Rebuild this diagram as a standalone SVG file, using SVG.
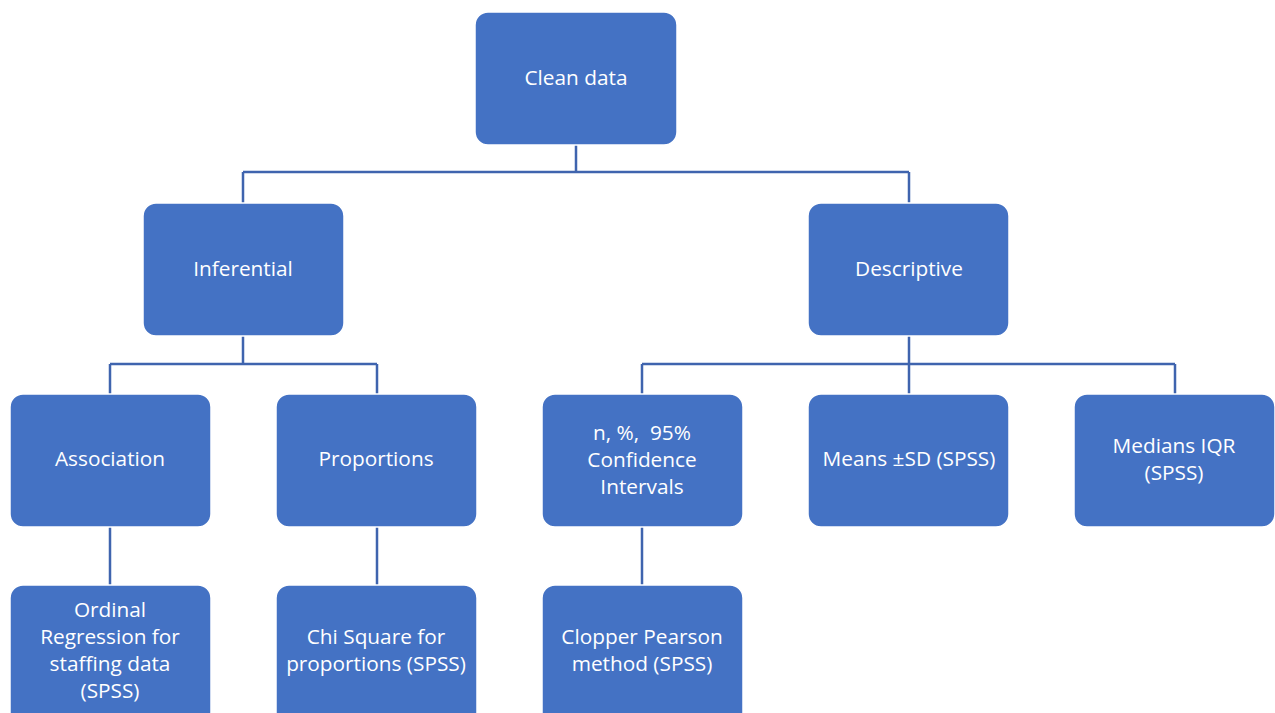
<svg xmlns="http://www.w3.org/2000/svg" width="1275" height="713" viewBox="0 0 1275 713">
<style>
.box{fill:#4472C4;stroke:#ffffff;stroke-width:1.5}
.t{font-family:"Open Sans","Noto Sans",sans-serif;font-size:20.8px;fill:#ffffff;text-anchor:middle;white-space:pre}
.c{stroke:#3F64AE;stroke-width:2.5;fill:none}
</style>
<rect width="1275" height="713" fill="#ffffff"/>
<g id="connectors">
<path class="c" d="M576,145V172M243,172H909M243,172V203M909,172V203"/>
<path class="c" d="M243,335V364M110,364H377M110,364V394M377,364V394"/>
<path class="c" d="M909,335V364M642,364H1175M642,364V394M909,335V394M1175,364V394"/>
<path class="c" d="M110,526V585M377,526V585M642,526V585"/>
</g>
<g id="clean-data"><rect class="box" x="475" y="12" width="202" height="133" rx="13"/><text class="t" x="576" y="85">Clean data</text></g>
<g id="inferential"><rect class="box" x="143" y="203" width="201" height="133" rx="13"/><text class="t" x="243" y="276">Inferential</text></g>
<g id="descriptive"><rect class="box" x="808" y="203" width="201" height="133" rx="13"/><text class="t" x="909" y="276">Descriptive</text></g>
<g id="association"><rect class="box" x="10" y="394" width="201" height="133" rx="13"/><text class="t" x="110" y="466">Association</text></g>
<g id="proportions"><rect class="box" x="276" y="394" width="201" height="133" rx="13"/><text class="t" x="376" y="466">Proportions</text></g>
<g id="n-percent"><rect class="box" x="542" y="394" width="201" height="133" rx="13"/><text class="t" x="642" y="440" xml:space="preserve">n, %,  95%</text><text class="t" x="642" y="467">Confidence</text><text class="t" x="642" y="494">Intervals</text></g>
<g id="means"><rect class="box" x="808" y="394" width="201" height="133" rx="13"/><text class="t" x="909" y="466">Means ±SD (SPSS)</text></g>
<g id="medians"><rect class="box" x="1074" y="394" width="201" height="133" rx="13"/><text class="t" x="1174" y="453">Medians IQR</text><text class="t" x="1174" y="480">(SPSS)</text></g>
<g id="ordinal"><rect class="box" x="10" y="585" width="201" height="140" rx="13"/><text class="t" x="110" y="617">Ordinal</text><text class="t" x="110" y="644">Regression for</text><text class="t" x="110" y="671">staffing data</text><text class="t" x="110" y="698">(SPSS)</text></g>
<g id="chi-square"><rect class="box" x="276" y="585" width="201" height="140" rx="13"/><text class="t" x="376" y="644">Chi Square for</text><text class="t" x="376" y="671">proportions (SPSS)</text></g>
<g id="clopper"><rect class="box" x="542" y="585" width="201" height="140" rx="13"/><text class="t" x="642" y="644">Clopper Pearson</text><text class="t" x="642" y="671">method (SPSS)</text></g>
</svg>
